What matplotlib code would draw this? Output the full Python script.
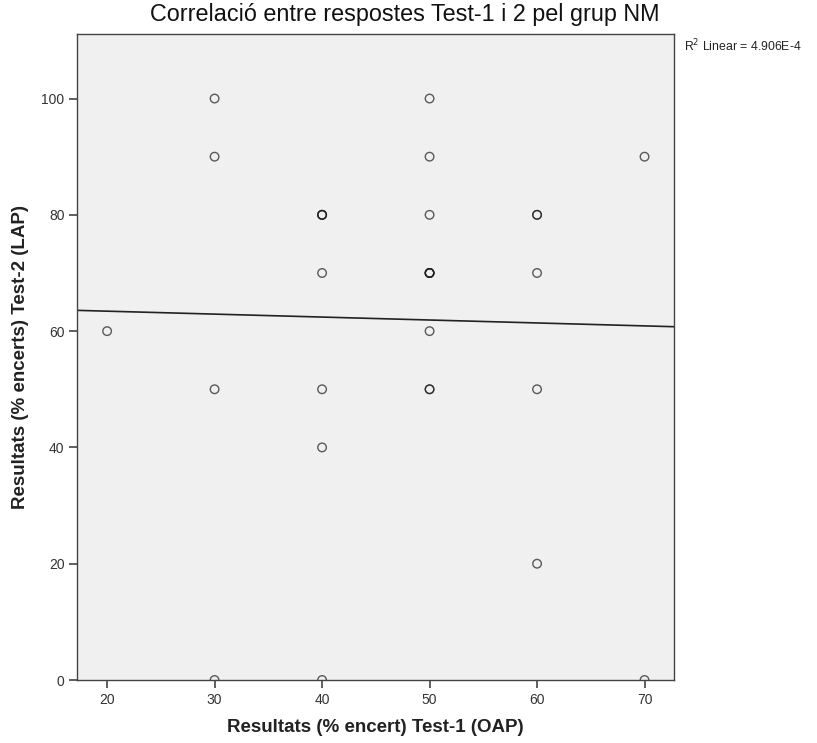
import numpy as np
import matplotlib
matplotlib.use("Agg")
import matplotlib.pyplot as plt

plt.rcParams['font.family'] = ['Liberation Sans', 'DejaVu Sans']

# Data (duplicates listed explicitly)
test1 = [20,
         30, 30, 30, 30,
         40, 40, 40, 40, 40, 40, 40,
         50, 50, 50, 50, 50, 50, 50, 50, 50, 50,
         60, 60, 60, 60, 60,
         70, 70]
test2 = [60,
         100, 90, 50, 0,
         80, 80, 80, 70, 50, 40, 0,
         100, 90, 80, 70, 70, 70, 70, 60, 50, 50,
         80, 80, 70, 50, 20,
         90, 0]

title = "Correlació entre respostes Test-1 i 2 pel grup NM"
xlabel = "Resultats (% encert) Test-1 (OAP)"
ylabel = "Resultats (% encerts) Test-2 (LAP)"
xticks = [20, 30, 40, 50, 60, 70]
yticks = [0, 20, 40, 60, 80, 100]

x = np.array(test1, dtype=float)
y = np.array(test2, dtype=float)
slope, intercept = np.polyfit(x, y, 1)
r2 = np.corrcoef(x, y)[0, 1] ** 2

W, H = 817, 743
fig = plt.figure(figsize=(W / 100, H / 100), dpi=100)
L, R, T, B = 77, 674, 34, 680
ax = fig.add_axes([L / W, 1 - B / H, (R - L) / W, (B - T) / H])
ax.set_facecolor('#f0f0f0')

xlim = (17.2, 72.74)
ylim = (0, 111.1)
ax.set_xlim(*xlim)
ax.set_ylim(*ylim)

ax.scatter(x, y, s=38, facecolors='none', edgecolors=(0.1, 0.1, 0.1, 0.7),
           linewidths=1.0, zorder=3)

xs = np.array(xlim)
ax.plot(xs, intercept + slope * xs, color='#222222', lw=1.2, zorder=2)

for sp in ax.spines.values():
    sp.set_color('#444444')
    sp.set_linewidth(1.0)

ax.set_xticks(xticks)
ax.set_yticks(yticks)
ax.tick_params(axis='both', direction='out', length=6, width=1.2, color='#444444',
               labelsize=10, labelcolor='#333333', pad=3)

ax.set_xlabel(xlabel, fontsize=13.5, fontweight='bold', color='#222222', labelpad=9)
ax.set_ylabel(ylabel, fontsize=13.5, fontweight='bold', color='#222222', labelpad=9)

fig.text(405 / W, 1 - 14 / H, title, ha='center', va='center', fontsize=16.8,
         color='#111111')

fig.text(684 / W, 1 - 46 / H, "R$^2$ Linear = %.3fE-4" % (r2 * 1e4), ha='left', va='center',
         fontsize=8.8, color='#222222')

fig.savefig('out.png', dpi=100)
